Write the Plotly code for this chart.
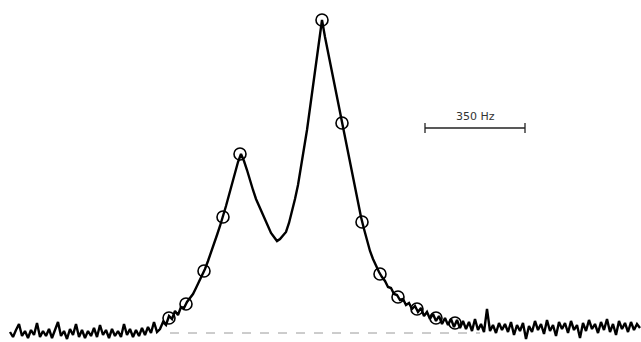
import plotly.graph_objects as go

# Spectrum sampled on a uniform frequency grid (Hz), intensity in arbitrary units
freq_start_hz = 0.0
freq_step_hz = 10.5
intensity = [
    1, -4, 3, 9, -3, 2, -5, 3, -2, 10,
    -4, 2, -3, 4, -5, 3, 11, -3, 2, -6,
    4, -2, 9, -4, 3, -5, 2, -3, 5, -4,
    8, -2, 3, -5, 4, -3, 2, -4, 9, -2,
    4, -4, 3, -3, 5, -2, 6, 0, 11, 1,
    4, 11, 8, 17, 14, 22, 18, 26, 25, 31,
    35, 39, 45, 51, 57, 64, 72, 80, 89, 98,
    107, 116, 127, 138, 150, 161, 171, 179, 172, 163,
    152, 143, 134, 127, 120, 114, 106, 100, 96, 92,
    94, 97, 101, 110, 121, 134, 148, 165, 184, 203,
    225, 247, 270, 292, 313, 296, 281, 265, 250, 234,
    219, 205, 190, 175, 160, 146, 131, 116, 104, 92,
    82, 74, 67, 61, 56, 52, 46, 45, 39, 38,
    33, 34, 28, 30, 24, 27, 21, 25, 17, 21,
    14, 19, 12, 17, 9, 15, 8, 14, 6, 13,
    5, 12, 4, 11, 2, 14, 3, 9, 1, 24,
    2, 8, 0, 10, 3, 9, 1, 11, -2, 8,
    2, 10, -6, 7, 1, 12, 3, 9, -1, 13,
    2, 8, -3, 11, 4, 10, 0, 12, 3, 8,
    -5, 10, 2, 13, 4, 9, 0, 11, 3, 14,
    1, 9, -2, 12, 4, 10, 1, 11, 3, 9,
    5,
]
freq = [freq_start_hz + i * freq_step_hz for i in range(len(intensity))]

# Fitted points (open circles)
fit_freq = [556.5, 616, 679, 745.5, 805, 1092, 1162, 1232, 1295, 1358, 1424.5, 1491, 1557.5]
fit_intensity = [15, 29, 62, 116, 179, 313, 210, 111, 59, 36, 24, 15, 10]

# Zero line under the resonance
zero_freq = [560, 1645]
zero_level = [0, 0]

# Scale bar
scale_start_hz = 1452.5
scale_len_hz = 350
scale_level = 205
scale_label = "350 Hz"

fig = go.Figure()

fig.add_trace(go.Scatter(
    x=zero_freq, y=zero_level, mode="lines",
    line=dict(color="#9a9a9a", width=1, dash="dash"),
    hoverinfo="skip", showlegend=False))

fig.add_trace(go.Scatter(
    x=freq, y=intensity, mode="lines",
    line=dict(color="black", width=2.4),
    showlegend=False))

fig.add_trace(go.Scatter(
    x=fit_freq, y=fit_intensity, mode="markers",
    marker=dict(symbol="circle-open", size=12, color="black",
                line=dict(width=1.6, color="black")),
    showlegend=False))

fig.add_trace(go.Scatter(
    x=[scale_start_hz, scale_start_hz + scale_len_hz],
    y=[scale_level, scale_level], mode="lines+markers",
    line=dict(color="#222", width=1.3),
    marker=dict(symbol="line-ns", size=7, color="#222",
                line=dict(width=1.3, color="#222")),
    showlegend=False))

fig.add_annotation(
    x=scale_start_hz + scale_len_hz / 2, y=scale_level,
    text=scale_label, showarrow=False, yanchor="bottom", yshift=3,
    font=dict(family="DejaVu Sans", size=11, color="#333"))

fig.update_layout(
    width=641, height=342,
    margin=dict(l=0, r=0, t=0, b=0),
    paper_bgcolor="white", plot_bgcolor="white",
    xaxis=dict(range=[-35, 2208.5], visible=False),
    yaxis=dict(range=[-9, 333], visible=False),
)

fig.write_html("out.html")
